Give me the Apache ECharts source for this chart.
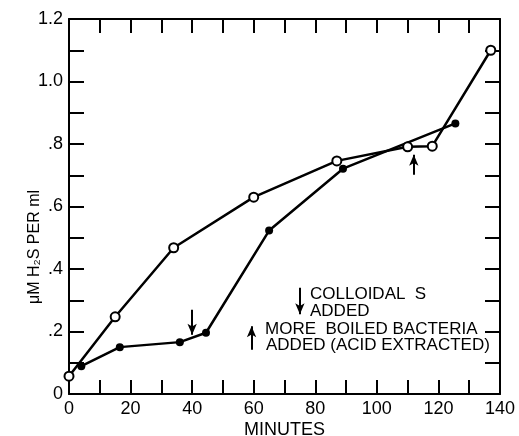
<!DOCTYPE html>
<html>
<head>
<meta charset="utf-8">
<script src="https://cdn.jsdelivr.net/npm/echarts@6/dist/echarts.min.js"></script>
<style>
  html, body { margin: 0; padding: 0; background: #fff; }
  #chart { width: 519px; height: 436px; }
</style>
</head>
<body>
<div id="chart"></div>
<script>
// open circles
const openMinutes = [0, 15, 34, 60, 87, 110, 118, 137];
const openValues = [0.057, 0.247, 0.468, 0.63, 0.746, 0.791, 0.793, 1.10];
// filled circles
const filledMinutes = [4, 16.5, 36, 44.5, 65, 89, 125.5];
const filledValues = [0.089, 0.15, 0.166, 0.196, 0.523, 0.721, 0.866];
// arrows on the curves: [minutes, from, to]
const colloidalArrow = [40, 0.27, 0.19];
const bacteriaArrow = [112, 0.702, 0.766];
// arrows in the key
const keyDownArrow = [75, 0.34, 0.255];
const keyUpArrow = [59.3, 0.142, 0.217];
const xTicks = [0, 20, 40, 60, 80, 100, 120, 140];
const yTicks = [0, 0.2, 0.4, 0.6, 0.8, 1.0, 1.2];

const font = 'Liberation Sans';
const myChart = echarts.init(document.getElementById('chart'));

function pairs(xs, ys) {
  return xs.map((x, i) => [x, ys[i]]);
}
function arrowLine(a) {
  return [{ coord: [a[0], a[1]] }, { coord: [a[0], a[2]] }];
}
// labels only on every other tick, like the printed axes
function xLabel(v) {
  return xTicks.indexOf(v) >= 0 ? String(v) : '';
}
function yLabel(v) {
  const hit = yTicks.find((t) => Math.abs(t - v) < 1e-6);
  if (hit === undefined) return '';
  if (hit === 0) return '0';
  const s = hit.toFixed(1);
  return hit < 1 ? s.slice(1) : s;
}

const tickStyle = { color: '#000', width: 2 };
const lineAxis = { onZero: false, lineStyle: { color: '#000', width: 2 } };

myChart.setOption({
  backgroundColor: '#fff',
  animation: false,
  grid: { left: 69, right: 19, top: 19, bottom: 42, outerBoundsMode: 'none' },
  xAxis: [{
    type: 'value',
    min: 0,
    max: 140,
    interval: 10,
    name: 'MINUTES',
    nameLocation: 'middle',
    nameGap: 27,
    nameMoveOverlap: false,
    nameTextStyle: { color: '#000', fontFamily: font, fontSize: 18 },
    axisLine: lineAxis,
    axisTick: { inside: true, length: 14, lineStyle: tickStyle },
    splitLine: { show: false },
    axisLabel: { color: '#000', fontFamily: font, fontSize: 18, margin: 6, formatter: xLabel, showMinLabel: true, showMaxLabel: true },
  }, {
    type: 'value',
    position: 'top',
    min: 0,
    max: 140,
    interval: 10,
    axisLine: lineAxis,
    axisTick: { inside: true, length: 14, lineStyle: tickStyle },
    splitLine: { show: false },
    axisLabel: { show: false },
  }],
  yAxis: [{
    type: 'value',
    min: 0,
    max: 1.2,
    interval: 0.1,
    axisLine: lineAxis,
    axisTick: { inside: true, length: 15, lineStyle: tickStyle },
    splitLine: { show: false },
    axisLabel: { color: '#000', fontFamily: font, fontSize: 18, margin: 6, formatter: yLabel, showMinLabel: true, showMaxLabel: true },
  }, {
    type: 'value',
    position: 'right',
    min: 0,
    max: 1.2,
    interval: 0.1,
    axisLine: lineAxis,
    axisTick: { inside: true, length: 15, lineStyle: tickStyle },
    splitLine: { show: false },
    axisLabel: { show: false },
  }],
  series: [{
    name: 'filled',
    type: 'line',
    data: pairs(filledMinutes, filledValues),
    symbol: 'circle',
    symbolSize: 8,
    itemStyle: { color: '#000' },
    lineStyle: { color: '#000', width: 2.5 },
    markLine: {
      silent: true,
      symbol: ['none', 'arrow'],
      symbolSize: [7, 11],
      label: { show: false },
      lineStyle: { color: '#000', width: 2, type: 'solid' },
      data: [arrowLine(colloidalArrow), arrowLine(bacteriaArrow),
        arrowLine(keyDownArrow), arrowLine(keyUpArrow)],
    },
  }, {
    name: 'open',
    type: 'line',
    data: pairs(openMinutes, openValues),
    symbol: 'circle',
    symbolSize: 9,
    itemStyle: { color: '#fff', borderColor: '#000', borderWidth: 2 },
    lineStyle: { color: '#000', width: 2.5 },
  }],
  graphic: [
    {
      type: 'text', x: 35, y: 247, rotation: Math.PI / 2,
      style: { text: 'μM H₂S PER ml', fill: '#000', font: '16px "Liberation Sans"', align: 'center', verticalAlign: 'middle' },
    },
    { type: 'text', left: 310, top: 286, style: { text: 'COLLOIDAL  S', fill: '#000', font: '17px "Liberation Sans"' } },
    { type: 'text', left: 310, top: 303, style: { text: 'ADDED', fill: '#000', font: '17px "Liberation Sans"' } },
    { type: 'text', left: 265, top: 321, style: { text: 'MORE  BOILED BACTERIA', fill: '#000', font: '17px "Liberation Sans"' } },
    { type: 'text', left: 266, top: 337, style: { text: 'ADDED (ACID EXTRACTED)', fill: '#000', font: '17px "Liberation Sans"' } },
  ],
});
</script>
</body>
</html>
